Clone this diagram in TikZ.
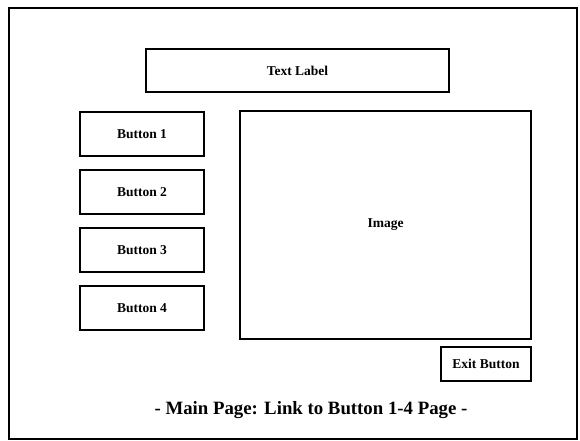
\documentclass[tikz,border=0pt]{standalone}
\usepackage{fontspec}
\setmainfont{Liberation Serif}
\usetikzlibrary{positioning}

\begin{document}
\begin{tikzpicture}[
  x=1pt, y=-1pt,
  every node/.style={font=\rmfamily\bfseries\fontsize{13.5}{16}\selectfont, text=black},
  pagebox/.style={
    draw=black, line width=1.8pt,
    minimum width=568pt, minimum height=431pt,
    inner sep=0pt, outer sep=0pt,
  },
  uibox/.style 2 args={
    draw=black, line width=1.2pt,
    minimum width=#1, minimum height=#2,
    inner sep=0pt, outer sep=0pt,
  },
  btnbox/.style={uibox={124pt}{44pt}},
]
\useasboundingbox (0,0) rectangle (580,440);

% ── Page frame ──
\node[pagebox] (page) at (293,223.5) {};

% ── Text label ──
\node[uibox={303pt}{43pt}] (label) at (297.5,70.5) {Text Label};

% ── Buttons 1-4 ──
\node[btnbox] (btn1) at (142,134) {Button 1};
\node[btnbox, below=14pt of btn1] (btn2) {Button 2};
\node[btnbox, below=14pt of btn2] (btn3) {Button 3};
\node[btnbox, below=14pt of btn3] (btn4) {Button 4};

% ── Image ──
\node[uibox={291pt}{228pt}] (image) at (385.5,225) {Image};

% ── Exit button ──
\node[uibox={90pt}{34pt}] (exit) at (486,364) {Exit Button};

% ── Caption ──
\node[font=\rmfamily\bfseries\fontsize{18.8}{22}\selectfont] (caption)
      at (311,410) {- Main Page: Link to Button 1-4 Page -};

\end{tikzpicture}
\end{document}
